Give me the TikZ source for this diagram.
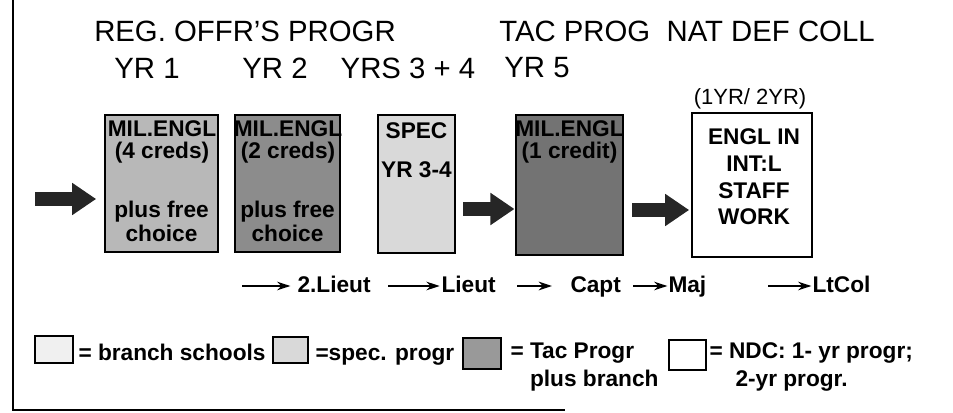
\documentclass[tikz,border=0pt]{standalone}
\usepackage{fontspec}
\setmainfont{Liberation Sans}
\usetikzlibrary{arrows.meta}

\tikzset{every picture/.style={line width=0.75pt}}
\tikzset{
  headtext/.style={font=\fontsize{22}{26}\selectfont, inner sep=0pt},
  subtext/.style={font=\fontsize{16.5}{20}\selectfont, inner sep=0pt},
  boxtext/.style={font=\bfseries\fontsize{17}{17}\selectfont, align=center, inner sep=0pt},
  yrbox/.style={draw, line width=1.3pt, inner sep=0pt},
  bigarrow/.style={draw=black!85, line width=10pt, -{Triangle[length=18pt,width=23pt]}},
  rankarrow/.style={line width=1pt, -{Stealth[length=10pt,width=6.5pt]}},
  ranktext/.style={font=\bfseries\fontsize{17}{20}\selectfont, anchor=base west, inner sep=0pt},
  legbox/.style={draw, line width=1pt},
  legtext/.style={font=\bfseries\fontsize{17}{21}\selectfont, anchor=base west, inner sep=0pt, align=left},
}

\begin{document}
\begin{tikzpicture}[x=0.75pt,y=0.75pt,yscale=-1,xscale=1]
\useasboundingbox (0,0) rectangle (953,413);

%Frame
\draw [line width=1.5pt] (13,0) -- (13,410) -- (565,410) ;

% Text Node
\draw (245,31) node (ttlreg) [headtext] {REG. OFFR'S PROGR};
% Text Node
\draw (687,31) node (ttltac) [headtext] {TAC PROG\ \ NAT DEF COLL};
% Text Node
\draw (147,68) node (hyr1) [headtext] {YR 1};
% Text Node
\draw (275,68) node (hyr2) [headtext] {YR 2};
% Text Node
\draw (408,68) node (hyr34) [headtext] {YRS 3 + 4};
% Text Node
\draw (537,68) node (hyr5) [headtext] {YR 5};
% Text Node
\draw (750,99) node (hndc) [subtext] {(1YR/ 2YR)};

%Shape: Rectangle
\draw (161.5,183.5) node (yr1) [yrbox, fill=black!28, minimum width=84.75pt, minimum height=102.75pt] {};
%Shape: Rectangle
\draw (287.5,183.5) node (yr2) [yrbox, fill=black!45, minimum width=78.75pt, minimum height=102.75pt] {};
%Shape: Rectangle
\draw (416.5,184) node (yr34) [yrbox, fill=black!15, minimum width=57.75pt, minimum height=103.5pt] {};
%Shape: Rectangle
\draw (569.5,185) node (yr5) [yrbox, fill=black!55, minimum width=80.25pt, minimum height=105pt] {};
%Shape: Rectangle
\draw (752,185) node (ndc) [yrbox, fill=white, minimum width=90pt, minimum height=108pt] {};

% Text Node
\draw (162,142) node (yr1top) [boxtext] {MIL.ENGL\\(4 creds)};
\draw (161.5,221) node (yr1bot) [boxtext] {plus free\\[1pt]choice};
% Text Node
\draw (288,142) node (yr2top) [boxtext] {MIL.ENGL\\(2 creds)};
\draw (287.5,221) node (yr2bot) [boxtext] {plus free\\[1pt]choice};
% Text Node
\draw (416.5,150.5) node (yr34txt) [boxtext] {SPEC\\[12pt]YR 3-4};
% Text Node
\draw (569.5,142) node (yr5txt) [boxtext] {MIL.ENGL\\(1 credit)};
% Text Node
\draw (754,177) node (ndctxt) [boxtext] {ENGL IN\\[3pt]INT:L\\[3pt]STAFF\\[3pt]WORK};

%Thick arrows
\coordinate (a1) at (35,199);
\coordinate (a2) at (463,209);
\coordinate (a3) at (632,210);
\draw [bigarrow, shorten >=6pt] (a1) -- (a1 -| yr1.west) ;
\draw [bigarrow, shorten >=0.5pt] (a2) -- (a2 -| yr5.west) ;
\draw [bigarrow, shorten >=1.5pt] (a3) -- (a3 -| ndc.west) ;

% Rank Nodes
\draw (297,293) node (lt2) [ranktext] {2.Lieut};
\draw (441,293) node (lt) [ranktext] {Lieut};
\draw (570,293) node (capt) [ranktext] {Capt};
\draw (668,293) node (maj) [ranktext] {Maj};
\draw (812,293) node (ltcol) [ranktext] {LtCol};
\coordinate (r1) at (242,286);
\coordinate (r2) at (388,286);
\coordinate (r3) at (517,286);
\coordinate (r4) at (633,286);
\coordinate (r5) at (768,286);
\draw [rankarrow, shorten >=5pt] (r1) -- (r1 -| lt2.west) ;
\draw [rankarrow, shorten >=1pt] (r2) -- (r2 -| lt.west) ;
\draw [rankarrow, shorten >=13.5pt] (r3) -- (r3 -| capt.west) ;
\draw [rankarrow, shorten >=0.5pt] (r4) -- (r4 -| maj.west) ;
\draw [rankarrow, shorten >=0.5pt] (r5) -- (r5 -| ltcol.west) ;

%Legend
\draw [legbox, fill=black!6] (35,336) rectangle (73,363) ;
\draw (78,360) node (legbr) [legtext] {= branch schools};
\draw [legbox, fill=black!15] (273,337) rectangle (308,363) ;
\draw (315,360) node (legspec) [legtext] {=spec. progr};
\draw [legbox, fill=black!40] (463,338) rectangle (501,369) ;
\draw (510,386) node (legtac) [legtext] {= Tac Progr\\\phantom{= }plus branch};
\draw [legbox, fill=white] (669,340) rectangle (706,370) ;
\draw (709,386) node (legndc) [legtext] {= NDC: 1- yr progr;\\\hspace*{19.5pt}2-yr progr.};

\end{tikzpicture}
\end{document}
